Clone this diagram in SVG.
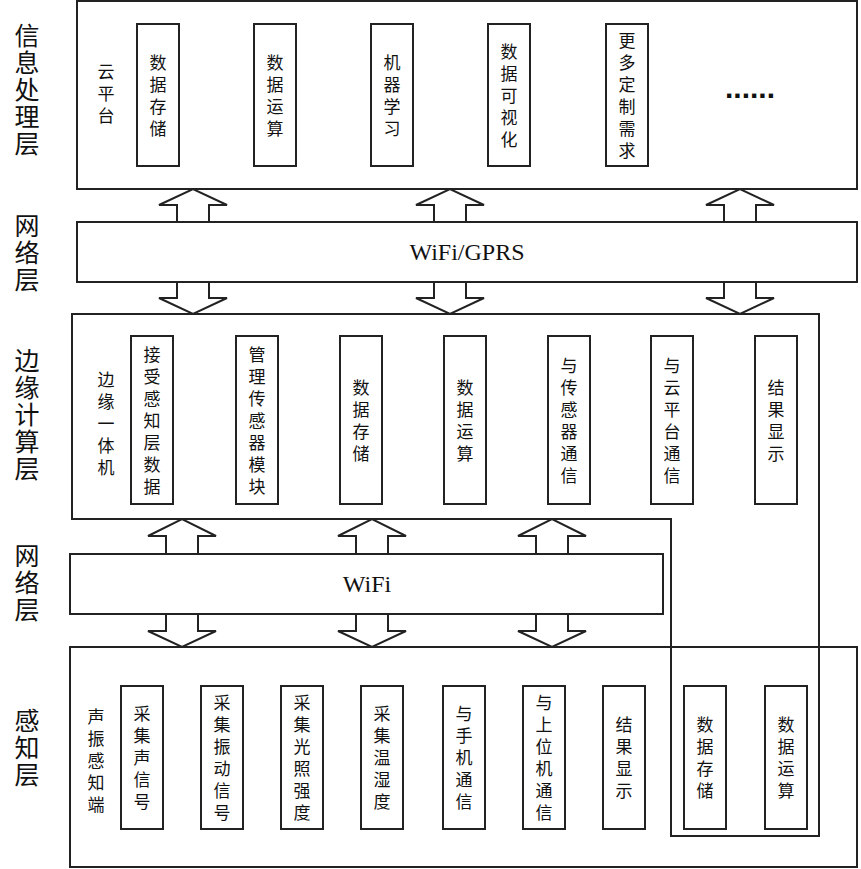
<svg xmlns="http://www.w3.org/2000/svg" width="861" height="869" viewBox="0 0 861 869">
<style>
rect,.b{fill:#fff;stroke:#222;stroke-width:2}
.a{fill:#fff;stroke:#222;stroke-width:2}
text{font-family:"Noto Sans CJK SC","Noto Sans",sans-serif;fill:#111;text-anchor:middle}
.t{font-size:17px}
.L{font-size:25px}
.w{font-family:"Liberation Serif",serif;font-size:24px}
</style>
<rect width="861" height="869" style="fill:#fff;stroke:none"/>
<g id="layer-labels">
<text class="L" x="27"><tspan y="45">信</tspan><tspan x="27" y="72">息</tspan><tspan x="27" y="99">处</tspan><tspan x="27" y="126">理</tspan><tspan x="27" y="153">层</tspan></text>
<text class="L" x="27"><tspan y="235">网</tspan><tspan x="27" y="262">络</tspan><tspan x="27" y="289">层</tspan></text>
<text class="L" x="27"><tspan y="370">边</tspan><tspan x="27" y="397">缘</tspan><tspan x="27" y="424">计</tspan><tspan x="27" y="451">算</tspan><tspan x="27" y="478">层</tspan></text>
<text class="L" x="27"><tspan y="565">网</tspan><tspan x="27" y="592">络</tspan><tspan x="27" y="619">层</tspan></text>
<text class="L" x="27"><tspan y="730">感</tspan><tspan x="27" y="757">知</tspan><tspan x="27" y="784">层</tspan></text>
</g>
<g id="connectors">
<path class="a" d="M177,222 L177,205 L159,205 L193,189 L227,205 L209,205 L209,222"/>
<path class="a" d="M434,222 L434,205 L416,205 L450,189 L484,205 L466,205 L466,222"/>
<path class="a" d="M724,222 L724,205 L706,205 L740,189 L774,205 L756,205 L756,222"/>
<path class="a" d="M177,282 L177,298 L159,298 L193,314 L227,298 L209,298 L209,282"/>
<path class="a" d="M434,282 L434,298 L416,298 L450,314 L484,298 L466,298 L466,282"/>
<path class="a" d="M724,282 L724,298 L706,298 L740,314 L774,298 L756,298 L756,282"/>
<path class="a" d="M166,554 L166,536 L148,536 L182,519 L216,536 L198,536 L198,554"/>
<path class="a" d="M356,554 L356,536 L338,536 L372,519 L406,536 L388,536 L388,554"/>
<path class="a" d="M536,554 L536,536 L518,536 L552,519 L586,536 L568,536 L568,554"/>
<path class="a" d="M166,614 L166,631 L148,631 L182,647 L216,631 L198,631 L198,614"/>
<path class="a" d="M356,614 L356,631 L338,631 L372,647 L406,631 L388,631 L388,614"/>
<path class="a" d="M536,614 L536,631 L518,631 L552,647 L586,631 L568,631 L568,614"/>
</g>
<g id="cloud">
<rect x="77" y="1" width="780" height="188"/>
<text class="t" x="106"><tspan y="78">云</tspan><tspan x="106" y="100">平</tspan><tspan x="106" y="122">台</tspan></text>
<rect x="137" y="24" width="42" height="142"/>
<text class="t" x="158"><tspan y="69">数</tspan><tspan x="158" y="91">据</tspan><tspan x="158" y="113">存</tspan><tspan x="158" y="135">储</tspan></text>
<rect x="254" y="24" width="42" height="142"/>
<text class="t" x="275"><tspan y="69">数</tspan><tspan x="275" y="91">据</tspan><tspan x="275" y="113">运</tspan><tspan x="275" y="135">算</tspan></text>
<rect x="371" y="24" width="42" height="142"/>
<text class="t" x="392"><tspan y="69">机</tspan><tspan x="392" y="91">器</tspan><tspan x="392" y="113">学</tspan><tspan x="392" y="135">习</tspan></text>
<rect x="488" y="24" width="42" height="142"/>
<text class="t" x="509"><tspan y="58">数</tspan><tspan x="509" y="80">据</tspan><tspan x="509" y="102">可</tspan><tspan x="509" y="124">视</tspan><tspan x="509" y="146">化</tspan></text>
<rect x="606" y="24" width="42" height="142"/>
<text class="t" x="627"><tspan y="47">更</tspan><tspan x="627" y="69">多</tspan><tspan x="627" y="91">定</tspan><tspan x="627" y="113">制</tspan><tspan x="627" y="135">需</tspan><tspan x="627" y="157">求</tspan></text>
<text x="750" y="98" style="font-family:'Liberation Sans',sans-serif;font-size:30px;font-weight:bold">......</text>
</g>
<g id="net1">
<rect x="77" y="222" width="780" height="60"/>
<text class="w" x="467" y="260">WiFi/GPRS</text>
</g>
<g id="edge">
<path class="b" d="M72,314 L819,314 L819,836 L671,836 L671,519 L72,519 Z"/>
<text class="t" x="106"><tspan y="386">边</tspan><tspan x="106" y="408">缘</tspan><tspan x="106" y="430">一</tspan><tspan x="106" y="452">体</tspan><tspan x="106" y="474">机</tspan></text>
<rect x="131" y="336" width="42" height="168"/>
<text class="t" x="152"><tspan y="361">接</tspan><tspan x="152" y="383">受</tspan><tspan x="152" y="405">感</tspan><tspan x="152" y="427">知</tspan><tspan x="152" y="449">层</tspan><tspan x="152" y="471">数</tspan><tspan x="152" y="493">据</tspan></text>
<rect x="236" y="336" width="42" height="168"/>
<text class="t" x="257"><tspan y="361">管</tspan><tspan x="257" y="383">理</tspan><tspan x="257" y="405">传</tspan><tspan x="257" y="427">感</tspan><tspan x="257" y="449">器</tspan><tspan x="257" y="471">模</tspan><tspan x="257" y="493">块</tspan></text>
<rect x="340" y="336" width="42" height="168"/>
<text class="t" x="361"><tspan y="394">数</tspan><tspan x="361" y="416">据</tspan><tspan x="361" y="438">存</tspan><tspan x="361" y="460">储</tspan></text>
<rect x="444" y="336" width="42" height="168"/>
<text class="t" x="465"><tspan y="394">数</tspan><tspan x="465" y="416">据</tspan><tspan x="465" y="438">运</tspan><tspan x="465" y="460">算</tspan></text>
<rect x="548" y="336" width="42" height="168"/>
<text class="t" x="569"><tspan y="372">与</tspan><tspan x="569" y="394">传</tspan><tspan x="569" y="416">感</tspan><tspan x="569" y="438">器</tspan><tspan x="569" y="460">通</tspan><tspan x="569" y="482">信</tspan></text>
<rect x="651" y="336" width="42" height="168"/>
<text class="t" x="672"><tspan y="372">与</tspan><tspan x="672" y="394">云</tspan><tspan x="672" y="416">平</tspan><tspan x="672" y="438">台</tspan><tspan x="672" y="460">通</tspan><tspan x="672" y="482">信</tspan></text>
<rect x="755" y="336" width="42" height="168"/>
<text class="t" x="776"><tspan y="394">结</tspan><tspan x="776" y="416">果</tspan><tspan x="776" y="438">显</tspan><tspan x="776" y="460">示</tspan></text>
</g>
<g id="net2">
<rect x="70" y="554" width="593" height="60"/>
<text class="w" x="367" y="592">WiFi</text>
</g>
<g id="sense">
<rect x="70" y="647" width="787" height="220" style="fill:none"/>
<path d="M671,647 L671,836 L819,836 L819,647" fill="none" stroke="#222" stroke-width="2"/>
<text class="t" x="96"><tspan y="723">声</tspan><tspan x="96" y="745">振</tspan><tspan x="96" y="767">感</tspan><tspan x="96" y="789">知</tspan><tspan x="96" y="811">端</tspan></text>
<rect x="121" y="686" width="42" height="143"/>
<text class="t" x="142"><tspan y="720">采</tspan><tspan x="142" y="742">集</tspan><tspan x="142" y="764">声</tspan><tspan x="142" y="786">信</tspan><tspan x="142" y="808">号</tspan></text>
<rect x="201" y="686" width="42" height="143"/>
<text class="t" x="222"><tspan y="709">采</tspan><tspan x="222" y="731">集</tspan><tspan x="222" y="753">振</tspan><tspan x="222" y="775">动</tspan><tspan x="222" y="797">信</tspan><tspan x="222" y="819">号</tspan></text>
<rect x="281" y="686" width="42" height="143"/>
<text class="t" x="302"><tspan y="709">采</tspan><tspan x="302" y="731">集</tspan><tspan x="302" y="753">光</tspan><tspan x="302" y="775">照</tspan><tspan x="302" y="797">强</tspan><tspan x="302" y="819">度</tspan></text>
<rect x="361" y="686" width="42" height="143"/>
<text class="t" x="382"><tspan y="720">采</tspan><tspan x="382" y="742">集</tspan><tspan x="382" y="764">温</tspan><tspan x="382" y="786">湿</tspan><tspan x="382" y="808">度</tspan></text>
<rect x="443" y="686" width="42" height="143"/>
<text class="t" x="464"><tspan y="720">与</tspan><tspan x="464" y="742">手</tspan><tspan x="464" y="764">机</tspan><tspan x="464" y="786">通</tspan><tspan x="464" y="808">信</tspan></text>
<rect x="523" y="686" width="42" height="143"/>
<text class="t" x="544"><tspan y="709">与</tspan><tspan x="544" y="731">上</tspan><tspan x="544" y="753">位</tspan><tspan x="544" y="775">机</tspan><tspan x="544" y="797">通</tspan><tspan x="544" y="819">信</tspan></text>
<rect x="603" y="686" width="42" height="143"/>
<text class="t" x="624"><tspan y="731">结</tspan><tspan x="624" y="753">果</tspan><tspan x="624" y="775">显</tspan><tspan x="624" y="797">示</tspan></text>
<rect x="684" y="686" width="42" height="143"/>
<text class="t" x="705"><tspan y="731">数</tspan><tspan x="705" y="753">据</tspan><tspan x="705" y="775">存</tspan><tspan x="705" y="797">储</tspan></text>
<rect x="765" y="686" width="42" height="143"/>
<text class="t" x="786"><tspan y="731">数</tspan><tspan x="786" y="753">据</tspan><tspan x="786" y="775">运</tspan><tspan x="786" y="797">算</tspan></text>
</g>
</svg>
